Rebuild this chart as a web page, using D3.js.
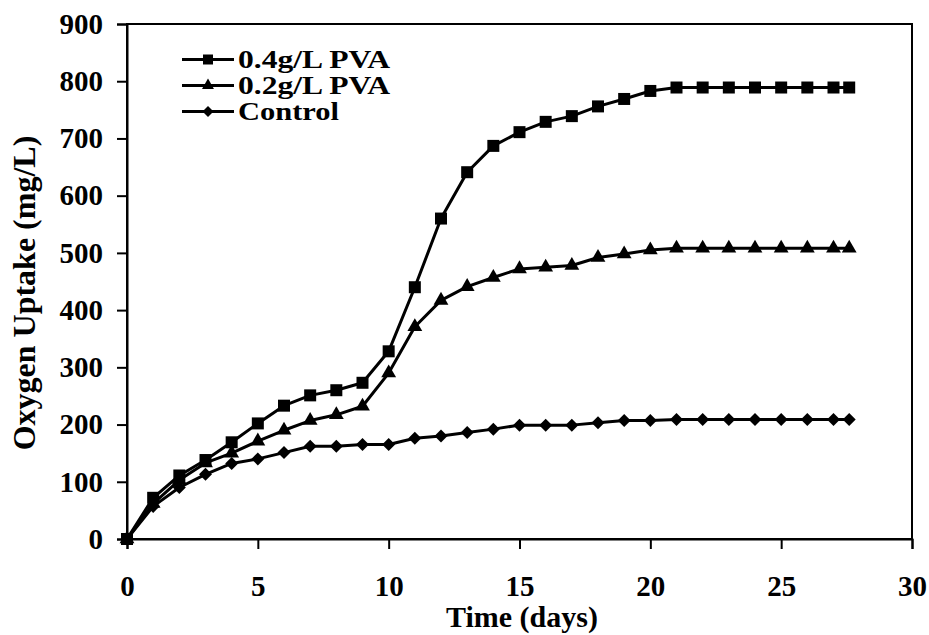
<!DOCTYPE html>
<html><head><meta charset="utf-8">
<script src="https://cdn.jsdelivr.net/npm/d3@7"></script>
<style>
html,body{margin:0;padding:0;background:#fff;}
svg text{font-family:"Liberation Serif","Times New Roman",serif;font-weight:bold;fill:#000;}
</style></head>
<body>
<svg id="chart" width="929" height="635"></svg>
<script>
const days = [0,1,2,3,4,5,6,7,8,9,10,11,12,13,14,15,16,17,18,19,20,21,22,23,24,25,26,27,27.6];
const pva04 = [0,72,111,138,169,202,233,251,260,273,328,440,560,641,687,711,729,739,756,769,783,789,789,789,789,789,789,789,789];
const pva02 = [0,62,103,133,150,171,190,207,217,232,290,371,417,441,457,472,475,478,492,498,505,508,508,508,508,508,508,508,508];
const control = [0,57,90,113,132,140,151,162,162,165,165,176,180,186,192,199,199,199,203,207,207,209,209,209,209,209,209,209,209];
const seriesNames = ["0.4g/L PVA","0.2g/L PVA","Control"];
const xTicks = [0,5,10,15,20,25,30];
const yTicks = [0,100,200,300,400,500,600,700,800,900];

const svg = d3.select("#chart");
const L = 127, R = 912, T = 24, B = 539;
const x = d3.scaleLinear().domain([0,30]).range([L,R]);
const y = d3.scaleLinear().domain([0,900]).range([B,T]);

// frame
svg.append("rect").attr("x",L).attr("y",T).attr("width",R-L).attr("height",B-T)
  .attr("fill","none").attr("stroke","#000").attr("stroke-width",2);

// axes
const yAxis = svg.append("g").attr("transform",`translate(${L},0)`)
  .call(d3.axisLeft(y).tickValues(yTicks).tickSize(10).tickPadding(14).tickFormat(d3.format("d")));
const xAxis = svg.append("g").attr("transform",`translate(0,${B})`)
  .call(d3.axisBottom(x).tickValues(xTicks).tickSize(10).tickPadding(26).tickFormat(d3.format("d")));
[yAxis,xAxis].forEach(a=>{
  a.selectAll("path.domain").attr("stroke","#000").attr("stroke-width",2);
  a.selectAll(".tick line").attr("stroke","#000").attr("stroke-width",2);
  a.selectAll("text").style("font-size","29px").style("font-family","'Liberation Serif','Times New Roman',serif").style("font-weight","bold").attr("fill","#000");
});

// titles
svg.append("text").attr("x",522).attr("y",627).attr("text-anchor","middle")
  .style("font-size","30px").text("Time (days)");
svg.append("text").attr("transform","translate(35,293) rotate(-90)").attr("text-anchor","middle")
  .style("font-size","32px").text("Oxygen Uptake (mg/L)");

const series = [
  {name:seriesNames[0], vals:pva04, sym:d3.symbolSquare, size:144},
  {name:seriesNames[1], vals:pva02, sym:d3.symbolTriangle, size:95},
  {name:seriesNames[2], vals:control, sym:"diamond", size:13}
];
function markerPath(s, size){
  if (s.sym === "diamond") {
    const h = size/2;
    return `M0,${-h}L${h},0L0,${h}L${-h},0Z`;
  }
  return d3.symbol().type(s.sym).size(size)();
}
const line = d3.line().x(d=>x(d[0])).y(d=>y(d[1]));
// draw in reverse so squares on top
series.slice().reverse().forEach(s=>{
  const pts = days.map((d,i)=>[d,s.vals[i]]);
  svg.append("path").datum(pts).attr("d",line).attr("fill","none")
    .attr("stroke","#000").attr("stroke-width",3).attr("stroke-linejoin","round");
  svg.append("g").selectAll("path").data(pts).join("path")
    .attr("transform",d=>`translate(${x(d[0])},${y(d[1])})`)
    .attr("d",markerPath(s,s.size)).attr("fill","#000");
});

// legend
const legRows = [59.5, 85.5, 111.5];
const legSizes = [100, 62, 11];
series.forEach((s,i)=>{
  const g = svg.append("g");
  g.append("line").attr("x1",182).attr("x2",234).attr("y1",legRows[i]).attr("y2",legRows[i])
    .attr("stroke","#000").attr("stroke-width",3);
  g.append("path").attr("transform",`translate(208,${legRows[i]})`).attr("d",markerPath(s,legSizes[i])).attr("fill","#000");
  const t = g.append("text").attr("x",238).attr("y",legRows[i]+8)
    .style("font-size","25px").text(s.name);
  t.attr("textLength", i<2 ? 152 : 101).attr("lengthAdjust","spacingAndGlyphs");
});
</script>
</body></html>
